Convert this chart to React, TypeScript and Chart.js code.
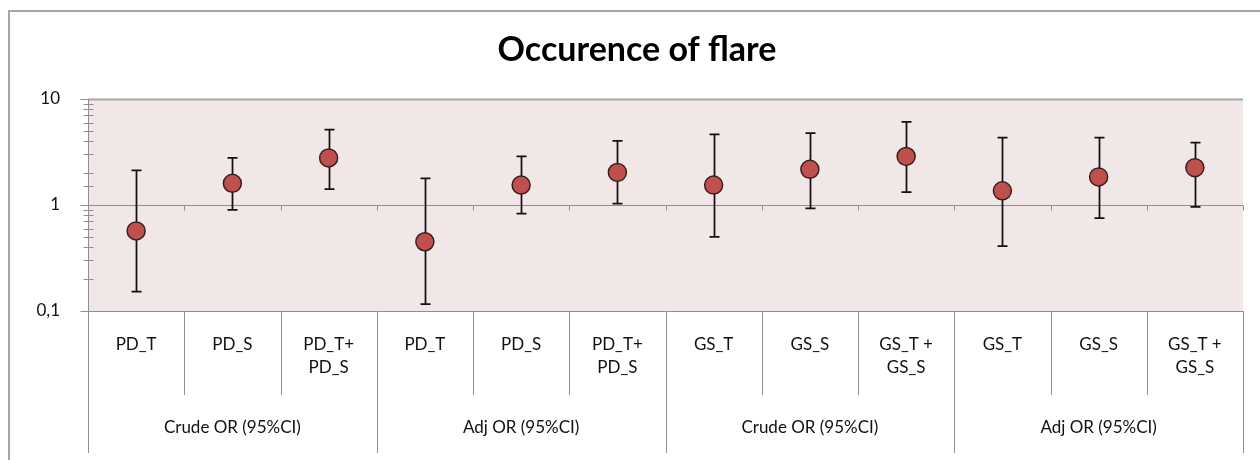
import React, { useEffect, useRef } from 'react';
import { Chart, registerables } from 'chart.js';

Chart.register(...registerables);

// ---- data ----
const categories: string[][] = [
  ['PD_T'], ['PD_S'], ['PD_T+', 'PD_S'],
  ['PD_T'], ['PD_S'], ['PD_T+', 'PD_S'],
  ['GS_T'], ['GS_S'], ['GS_T +', 'GS_S'],
  ['GS_T'], ['GS_S'], ['GS_T +', 'GS_S'],
];
const groups = ['Crude OR (95%CI)', 'Adj OR (95%CI)', 'Crude OR (95%CI)', 'Adj OR (95%CI)'];
const groupSize = 3;
const oddsRatios = [0.57, 1.6, 2.78, 0.45, 1.54, 2.03, 1.54, 2.17, 2.87, 1.36, 1.84, 2.25];
const ciLower = [0.152, 0.9, 1.41, 0.116, 0.83, 1.03, 0.5, 0.93, 1.32, 0.41, 0.75, 0.96];
const ciUpper = [2.12, 2.78, 5.13, 1.78, 2.87, 4.03, 4.63, 4.76, 6.07, 4.31, 4.31, 3.87];
const yMajorTicks = [0.1, 1, 10];
const yTickLabels = ['0,1', '1', '10'];
const titleText = 'Occurence of flare';

const FONT = 'Lato, "Open Sans", sans-serif';
const GRAY = '#8f8f8f';

const crisp = (v: number) => Math.round(v) + 0.5;

const customPlugin = {
  id: 'customDraw',
  beforeDraw(chart: any) {
    const { ctx, chartArea: a } = chart;
    ctx.save();
    // outer frame
    ctx.strokeStyle = '#a6a6a6';
    ctx.lineWidth = 2;
    ctx.beginPath();
    ctx.moveTo(9, 460);
    ctx.lineTo(9, 11);
    ctx.lineTo(1260, 11);
    ctx.stroke();
    // title
    ctx.fillStyle = '#000';
    ctx.font = `bold 34px ${FONT}`;
    ctx.textAlign = 'center';
    ctx.textBaseline = 'middle';
    ctx.fillText(titleText, 637, 50);
    // plot background
    ctx.fillStyle = '#f2e7e7';
    ctx.fillRect(a.left, a.top, a.right - a.left, a.bottom - a.top);
    ctx.restore();
  },
  beforeDatasetsDraw(chart: any) {
    const { ctx, chartArea: a, scales } = chart;
    const x = scales.x;
    const y = scales.y;
    ctx.save();
    ctx.strokeStyle = GRAY;
    ctx.lineWidth = 1;

    const n = categories.length;
    const step = x.getPixelForValue(1) - x.getPixelForValue(0);
    const bounds: number[] = [];
    for (let i = 0; i <= n; i++) bounds.push(x.getPixelForValue(0) - step / 2 + i * step);

    // horizontal major gridlines
    yMajorTicks.forEach((v, i) => {
      const py = crisp(y.getPixelForValue(v));
      ctx.beginPath();
      ctx.lineWidth = i === yMajorTicks.length - 1 ? 2 : 1;
      ctx.strokeStyle = i === yMajorTicks.length - 1 ? '#a6a6a6' : GRAY;
      ctx.moveTo(a.left, py);
      ctx.lineTo(a.right, py);
      ctx.stroke();
    });
    ctx.lineWidth = 1;
    ctx.strokeStyle = GRAY;

    // y axis line
    const ax = crisp(a.left);
    ctx.beginPath();
    ctx.moveTo(ax, a.top);
    ctx.lineTo(ax, a.bottom);
    ctx.stroke();

    // y ticks (major + minor)
    y.ticks.forEach((t: any) => {
      const v = t.value;
      const py = crisp(y.getPixelForValue(v));
      const isMajor = yMajorTicks.some((m) => Math.abs(v - m) < m * 1e-6);
      ctx.beginPath();
      if (isMajor) {
        ctx.moveTo(ax - 8, py);
        ctx.lineTo(ax, py);
      } else {
        ctx.moveTo(ax - 5, py);
        ctx.lineTo(ax + 5, py);
      }
      ctx.stroke();
    });

    // x ticks on the 1-line
    const y1 = crisp(y.getPixelForValue(1));
    for (let i = 1; i <= n; i++) {
      const bx = crisp(bounds[i]);
      ctx.beginPath();
      ctx.moveTo(bx, y1);
      ctx.lineTo(bx, y1 + 5);
      ctx.stroke();
    }

    // bottom category separators
    const yb = a.bottom;
    for (let i = 0; i <= n; i++) {
      const bx = crisp(bounds[i]);
      const isGroup = i % groupSize === 0;
      ctx.beginPath();
      ctx.moveTo(bx, yb);
      ctx.lineTo(bx, isGroup ? yb + 142 : yb + 84);
      ctx.stroke();
    }

    // category labels
    ctx.fillStyle = '#111';
    ctx.font = `17px ${FONT}`;
    ctx.textAlign = 'center';
    ctx.textBaseline = 'middle';
    categories.forEach((lines, i) => {
      const cx = x.getPixelForValue(i);
      lines.forEach((l, j) => ctx.fillText(l, cx, yb + 34 + j * 23));
    });
    groups.forEach((g, gi) => {
      const cx = (bounds[gi * groupSize] + bounds[(gi + 1) * groupSize]) / 2;
      ctx.fillText(g, cx, yb + 117);
    });

    // error bars
    ctx.strokeStyle = '#111';
    ctx.lineWidth = 1.75;
    oddsRatios.forEach((_, i) => {
      const cx = Math.round(x.getPixelForValue(i)) + 0.5;
      const lo = y.getPixelForValue(ciLower[i]);
      const hi = y.getPixelForValue(ciUpper[i]);
      ctx.beginPath();
      ctx.moveTo(cx, lo);
      ctx.lineTo(cx, hi);
      ctx.moveTo(cx - 5, hi);
      ctx.lineTo(cx + 5, hi);
      ctx.moveTo(cx - 5, lo);
      ctx.lineTo(cx + 5, lo);
      ctx.stroke();
    });
    ctx.restore();
  },
};

export default function App() {
  const ref = useRef<HTMLCanvasElement | null>(null);
  useEffect(() => {
    if (!ref.current) return;
    const chart = new Chart(ref.current, {
      type: 'line',
      data: {
        labels: categories.map((c) => c.join(' ')),
        datasets: [
          {
            data: oddsRatios,
            showLine: false,
            pointRadius: 9,
            pointHoverRadius: 9,
            pointBackgroundColor: '#c0504d',
            pointBorderColor: '#3a1f1e',
            pointBorderWidth: 1.5,
          },
        ],
      },
      options: {
        animation: false,
        responsive: false,
        maintainAspectRatio: false,
        layout: { padding: { left: 0, right: 17, top: 99, bottom: 149 } },
        plugins: {
          legend: { display: false },
          tooltip: { enabled: false },
          title: { display: false },
        },
        scales: {
          x: {
            type: 'category',
            display: false,
            offset: true,
          },
          y: {
            type: 'logarithmic',
            min: 0.1,
            max: 10,
            afterFit: (s: any) => {
              s.width = 88;
            },
            grid: { display: false },
            border: { display: false },
            ticks: {
              autoSkip: false,
              padding: 20,
              color: '#111',
              font: { family: FONT, size: 17 },
              callback: (v: any) => {
                const idx = yMajorTicks.findIndex((m) => Math.abs(Number(v) - m) < m * 1e-6);
                return idx >= 0 ? yTickLabels[idx] : '';
              },
            },
          },
        },
      },
      plugins: [customPlugin],
    });
    return () => chart.destroy();
  }, []);
  return (
    <div style={{ position: 'fixed', left: 0, top: 0, width: 1260, height: 460, background: '#fff' }}>
      <canvas ref={ref} width={1260} height={460} />
    </div>
  );
}
